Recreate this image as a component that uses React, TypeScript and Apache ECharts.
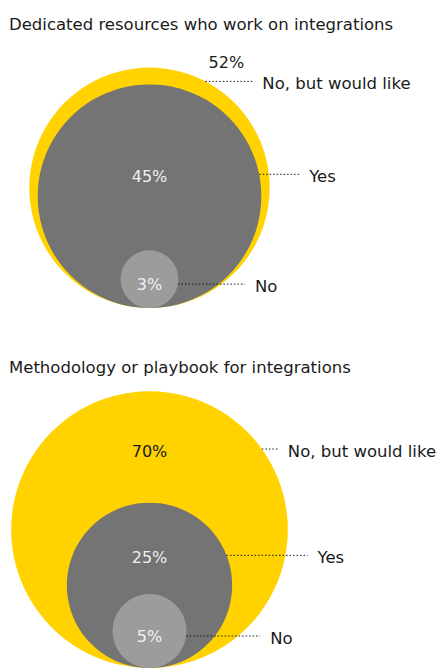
import React, { useEffect, useRef } from "react";
import * as echarts from "echarts";

const chart1Title = "Dedicated resources who work on integrations";
const chart1Categories = ["No, but would like", "Yes", "No"];
const chart1Values = [52, 45, 3];

const chart2Title = "Methodology or playbook for integrations";
const chart2Categories = ["No, but would like", "Yes", "No"];
const chart2Values = [70, 25, 5];

// styling
const FONT = "'DejaVu Sans', sans-serif";
const circleColors = ["#FFD200", "#747474", "#9c9c9c"];
const pctColors = ["#1a1a1a", "#f0f0f0", "#f0f0f0"];
const labelShift = [2, 7, 5];
const chart1Leader = [47, 40, 67];
const chart2Leader = [16, 81, 74];

function makeRender(values: number[], cats: string[], leaders: number[]) {
  return (params: any, api: any) => {
    const i = params.dataIndex;
    const geo = values.map((v) => {
      const c = api.coord([0, Math.sqrt(v)]);
      const r = api.size([0, Math.sqrt(v)])[1];
      return { cx: c[0], cy: c[1], r, top: c[1] - r };
    });
    const g = geo[i];
    const last = i === values.length - 1;
    let py: number;
    let ly: number;
    let px = g.cx;
    let pctColor = pctColors[i];
    let outside = false;
    if (!last) {
      const gap = geo[i + 1].top - g.top;
      if (gap >= 40) {
        ly = (g.top + geo[i + 1].top) / 2 + labelShift[i];
        py = ly + 2;
      } else {
        ly = geo[i + 1].top - 3;
        py = ly - 19;
        outside = true;
      }
    } else {
      ly = g.cy + labelShift[i];
      py = g.cy + labelShift[i] + 0.5;
    }
    const dy = ly - g.cy;
    const xs = g.cx + Math.sqrt(Math.max(0, g.r * g.r - dy * dy));
    const xe = xs + leaders[i];
    if (outside) {
      px = xs + 21;
      pctColor = "#1a1a1a";
    }
    return {
      type: "group",
      children: [
        {
          type: "circle",
          shape: { cx: g.cx, cy: g.cy, r: g.r },
          style: { fill: circleColors[i] },
        },
        {
          type: "text",
          style: {
            text: values[i] + "%",
            x: px,
            y: py,
            fill: pctColor,
            fontSize: 16,
            fontFamily: FONT,
            align: "center",
            verticalAlign: "middle",
          },
        },
        {
          type: "line",
          shape: { x1: xs, y1: ly, x2: xe, y2: ly },
          style: { stroke: "#1a1a1a", lineWidth: 1, lineDash: [1.5, 2] },
        },
        {
          type: "text",
          style: {
            text: cats[i],
            x: xe + 10,
            y: ly + 2,
            fill: "#1a1a1a",
            fontSize: 16.5,
            fontFamily: FONT,
            align: "left",
            verticalAlign: "middle",
          },
        },
      ],
    };
  };
}

export default function App() {
  const ref = useRef<HTMLDivElement>(null);
  useEffect(() => {
    if (!ref.current) return;
    const chart = echarts.init(ref.current, undefined, { renderer: "svg" });
    const axisX = (gi: number) => ({
      type: "value",
      gridIndex: gi,
      min: -9,
      max: 9,
      show: false,
    });
    const axisY = (gi: number) => ({
      type: "value",
      gridIndex: gi,
      min: 0,
      max: 15,
      show: false,
    });
    chart.setOption({
      animation: false,
      backgroundColor: "#ffffff",
      grid: [
        { left: 0, width: 299, top: 58, height: 250 },
        { left: 0, width: 299, top: 420, height: 250 },
      ],
      xAxis: [axisX(0), axisX(1)],
      yAxis: [axisY(0), axisY(1)],
      graphic: [
        {
          type: "text",
          left: 9,
          top: 16,
          style: {
            text: chart1Title,
            fill: "#1a1a1a",
            fontSize: 16.5,
            fontFamily: FONT,
          },
        },
        {
          type: "text",
          left: 9,
          top: 359,
          style: {
            text: chart2Title,
            fill: "#1a1a1a",
            fontSize: 16.5,
            fontFamily: FONT,
          },
        },
      ],
      series: [
        {
          type: "custom",
          xAxisIndex: 0,
          yAxisIndex: 0,
          clip: false,
          renderItem: makeRender(chart1Values, chart1Categories, chart1Leader),
          data: chart1Values.map((v, i) => [0, v, i]),
        },
        {
          type: "custom",
          xAxisIndex: 1,
          yAxisIndex: 1,
          clip: false,
          renderItem: makeRender(chart2Values, chart2Categories, chart2Leader),
          data: chart2Values.map((v, i) => [0, v, i]),
        },
      ],
    });
    return () => chart.dispose();
  }, []);
  return (
    <div
      ref={ref}
      style={{ position: "fixed", left: 0, top: 0, width: 442, height: 668 }}
    />
  );
}
